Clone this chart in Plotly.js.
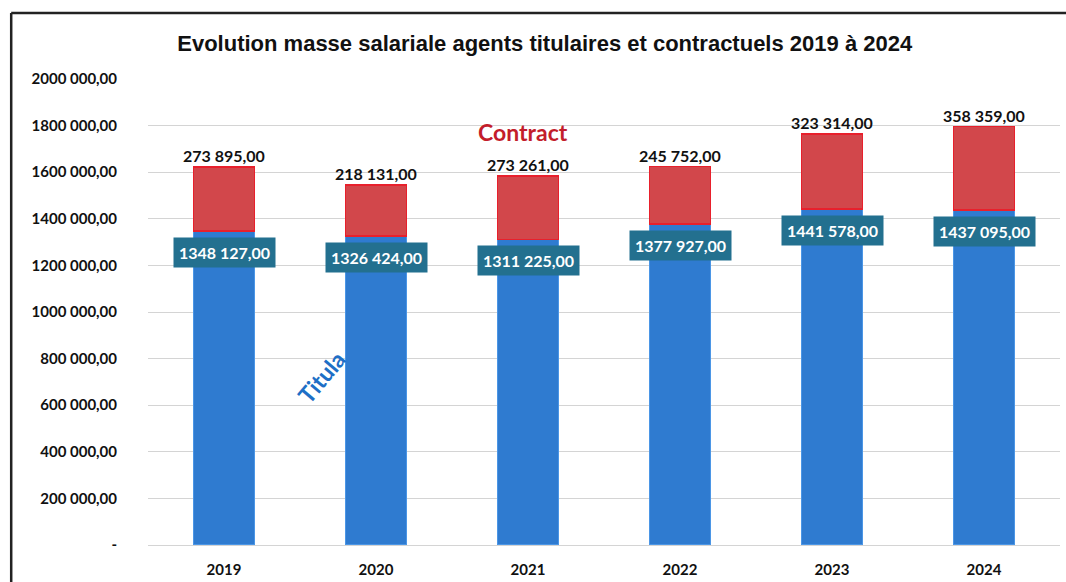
<!DOCTYPE html>
<html><head><meta charset="utf-8">
<script src="https://cdn.plot.ly/plotly-3.0.1.min.js"></script>
<style>html,body{margin:0;padding:0;background:#fff;}#chart{width:1066px;height:582px;}</style>
</head><body><div id="chart"></div>
<script>
const years = ['2019','2020','2021','2022','2023','2024'];
const titulaires = [1348127, 1326424, 1311225, 1377927, 1441578, 1437095];
const contractuels = [273895, 218131, 273261, 245752, 323314, 358359];
const yTickVals = [0,200000,400000,600000,800000,1000000,1200000,1400000,1600000,1800000,2000000];

function fmt(n){
  const s = String(Math.round(n));
  if (n === 0) return '-';
  return (s.length > 3 ? s.slice(0,-3) + ' ' + s.slice(-3) : s) + ',00';
}
const totals = titulaires.map((v,i)=>v+contractuels[i]);

const traces = [
  {type:'bar', x:years, y:titulaires, name:'Titulaires',
   marker:{color:'#2f7bd0', line:{color:'#4b96e6', width:1.5}}, hoverinfo:'none'},
  {type:'bar', x:years, y:contractuels, name:'Contractuels',
   marker:{color:'#d2474b', line:{color:'#e8202c', width:1.5}}, hoverinfo:'none'}
];

const annotations = [];
years.forEach((yr,i)=>{
  annotations.push({x:i, y:titulaires[i], xref:'x', yref:'y', text:fmt(titulaires[i]),
    showarrow:false, yanchor:'top', yshift:-6, bgcolor:'#23708f', borderpad:5,
    font:{family:'Lato, sans-serif', size:16, color:'#ffffff', weight:700}});
  annotations.push({x:i, y:totals[i], xref:'x', yref:'y', text:fmt(contractuels[i]),
    showarrow:false, yanchor:'bottom', yshift:0,
    font:{family:'Lato, sans-serif', size:16, color:'#111111', weight:700}});
});
annotations.push({x:0.411, y:1.0, xref:'paper', yref:'paper', text:'Contract', showarrow:false,
  xanchor:'center', yanchor:'middle', yshift:-53,
  font:{family:'Lato, sans-serif', size:23, color:'#c31d2b', weight:700}});
annotations.push({x:0.19, y:0.361, xref:'paper', yref:'paper', text:'Titula', showarrow:false,
  xanchor:'center', yanchor:'middle', textangle:-50,
  font:{family:'Lato, sans-serif', size:23, color:'#1e6fc6', weight:700}});

const layout = {
  width:1066, height:582,
  margin:{l:148, r:6, t:79, b:37},
  paper_bgcolor:'#ffffff', plot_bgcolor:'#ffffff',
  barmode:'stack', bargap:0.6, showlegend:false,
  title:{text:'Evolution masse salariale agents titulaires et contractuels 2019 à 2024',
    x:0.511, xanchor:'center', y:0.926, yanchor:'middle',
    font:{family:'Liberation Sans Narrow, Arial Narrow, sans-serif', size:22, color:'#111111', weight:700}},
  xaxis:{type:'category', range:[-0.5,5.5], showgrid:false, zeroline:false, showline:false, ticks:'',
    ticklabelstandoff:14,
    tickfont:{family:'Lato, sans-serif', size:15, color:'#111111', weight:700}},
  yaxis:{range:[0,2000000], tickvals:yTickVals, ticktext:yTickVals.map(fmt),
    showgrid:true, gridcolor:'#d4d4d4', gridwidth:1, zeroline:true, zerolinecolor:'#d4d4d4', zerolinewidth:1,
    showline:false, ticks:'', ticklabelstandoff:30,
    tickfont:{family:'Lato, sans-serif', size:15, color:'#111111', weight:700}},
  annotations:annotations,
  shapes:[
    {type:'line', xref:'paper', yref:'paper', x0:-0.150, x1:1.01, y0:1.1416, y1:1.1416, line:{color:'#222222', width:2.5}},
    {type:'line', xref:'paper', yref:'paper', x0:-0.150, x1:-0.150, y0:1.1416, y1:-0.09, line:{color:'#222222', width:2.5}}
  ]
};
Plotly.newPlot('chart', traces, layout, {displayModeBar:false, staticPlot:true});
</script></body></html>
